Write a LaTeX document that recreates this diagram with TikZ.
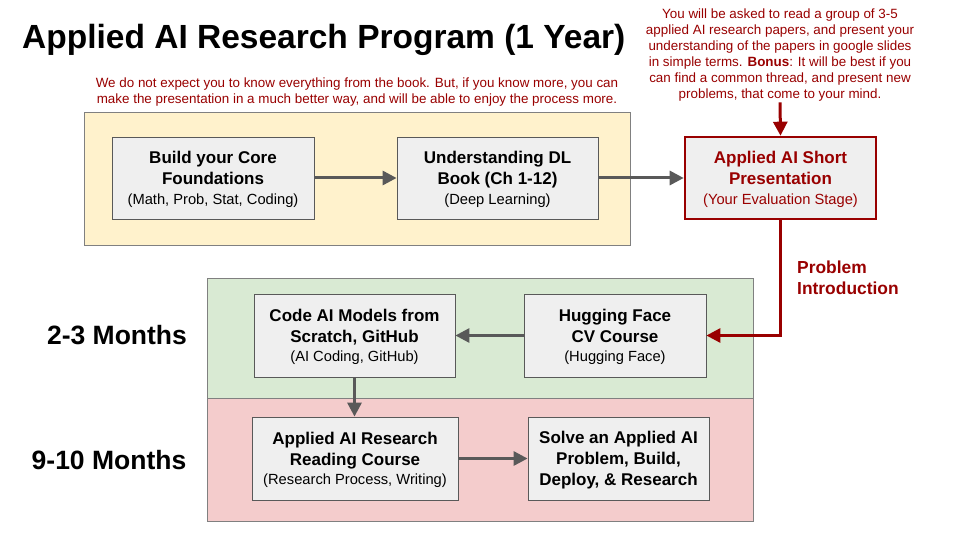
\documentclass[tikz,border=0pt]{standalone}
\usepackage{fontspec}
\setmainfont{Liberation Sans}
\usepackage{tikz}
\usetikzlibrary{
  arrows.meta,
  positioning
}
\definecolor{boxfill}{RGB}{239, 239, 239}
\definecolor{boxline}{RGB}{89, 89, 89}
\definecolor{arrowcolor}{RGB}{89, 89, 89}
\definecolor{notecolor}{RGB}{153, 0, 0}
\definecolor{yellowzone}{RGB}{255, 242, 204}
\definecolor{greenzone}{RGB}{217, 234, 211}
\definecolor{redzone}{RGB}{244, 204, 204}
\definecolor{zoneline}{RGB}{128, 128, 128}
\newcommand{\boxsub}[1]{{\fontsize{14.7}{19}\selectfont #1}}
\tikzset{
stagebox/.style={
  draw=boxline,
  line width=0.8pt,
  fill=boxfill,
  minimum height=82pt,
  align=center,
  inner sep=2pt,
  text depth=-5pt,
  font=\fontsize{17}{21}\selectfont
},
evalbox/.style={
  stagebox,
  draw=notecolor,
  line width=2.6pt,
  text=notecolor
},
zone/.style={
  draw=zoneline,
  line width=0.6pt
},
notetext/.style={
  font=\fontsize{13.4}{16}\selectfont,
  text=notecolor,
  align=center,
  inner sep=1pt
},
monthlabel/.style={
  font=\fontsize{26.5}{30}\selectfont\bfseries,
  inner sep=0pt
},
arrow/.style={
  -{Triangle[length=14pt,width=14pt]},
  line width=3pt,
  draw=arrowcolor
},
redarrow/.style={
  arrow,
  draw=notecolor
}
}
\begin{document}
\begin{tikzpicture}[x=1pt, y=-1pt]
  \useasboundingbox[fill=white] (0,0) rectangle (960,540);

  % background zones
  \draw[zone, fill=yellowzone] (84,112) rectangle (630,245);
  \draw[zone, fill=greenzone] (207,278) rectangle (753,398);
  \draw[zone, fill=redzone] (207,398) rectangle (753,521);

  \node[anchor=west, inner sep=0pt, font=\fontsize{33.5}{40}\selectfont\bfseries] (title) at (22,40)
    {Applied AI Research Program (1 Year)};

  \node[notetext] (booknote) at (357,92) {We do not expect you to know everything from the book. But, if you know more, you can\\
    make the presentation in a much better way, and will be able to enjoy the process more.};
  \node[notetext] (papernote) at (780,55) {You will be asked to read a group of 3-5\\
    applied AI research papers, and present your\\
    understanding of the papers in google slides\\
    in simple terms. \textbf{Bonus}: It will be best if you\\
    can find a common thread, and present new\\
    problems, that come to your mind.};

  % first row
  \node[stagebox, minimum width=202pt] (core) at (213,178)
    {\textbf{Build your Core}\\\textbf{Foundations}\\[-1.5pt]\boxsub{(Math, Prob, Stat, Coding)}};
  \node[stagebox, minimum width=201pt] (dlbook) at (497.5,178)
    {\textbf{Understanding DL}\\\textbf{Book (Ch 1-12)}\\[-1.5pt]\boxsub{(Deep Learning)}};
  \node[evalbox, minimum width=191pt] (shortpres) at (780.5,178)
    {\textbf{Applied AI Short}\\\textbf{Presentation}\\[-1.5pt]\boxsub{(Your Evaluation Stage)}};

  % 2-3 months
  \node[monthlabel] (twothree) at (117,335) {2-3 Months};
  \node[stagebox, minimum width=201pt, minimum height=83pt] (codemodels) at (354.5,335.5)
    {\textbf{Code AI Models from}\\\textbf{Scratch, GitHub}\\[-1.5pt]\boxsub{(AI Coding, GitHub)}};
  \node[stagebox, minimum width=182pt, minimum height=83pt] (hfcourse) at (615,335.5)
    {\textbf{Hugging Face}\\\textbf{CV Course}\\[-1.5pt]\boxsub{(Hugging Face)}};

  % 9-10 months
  \node[monthlabel] (nineten) at (109,460) {9-10 Months};
  \node[stagebox, minimum width=206pt, minimum height=83pt] (readcourse) at (355,458.5)
    {\textbf{Applied AI Research}\\\textbf{Reading Course}\\[-1.5pt]\boxsub{(Research Process, Writing)}};
  \node[stagebox, minimum width=181pt, minimum height=83pt] (solve) at (618.5,458.5)
    {\textbf{Solve an Applied AI}\\\textbf{Problem, Build,}\\\textbf{Deploy, \& Research}};

  \node[anchor=west, align=left, inner sep=0pt, text=notecolor,
        font=\fontsize{17.4}{21}\selectfont\bfseries] (probintro) at (797,278) {Problem\\Introduction};

  % connectors
  \draw[arrow] (core) -- (dlbook);
  \draw[arrow] (dlbook) -- (shortpres);
  \draw[redarrow] (papernote.south) -- (shortpres.north);
  \draw[redarrow] (shortpres.south) |- (hfcourse.east);
  \draw[arrow] (hfcourse) -- (codemodels);
  \draw[arrow] (codemodels) -- (readcourse.north -| codemodels.south);
  \draw[arrow] (readcourse) -- (solve);
\end{tikzpicture}
\end{document}
